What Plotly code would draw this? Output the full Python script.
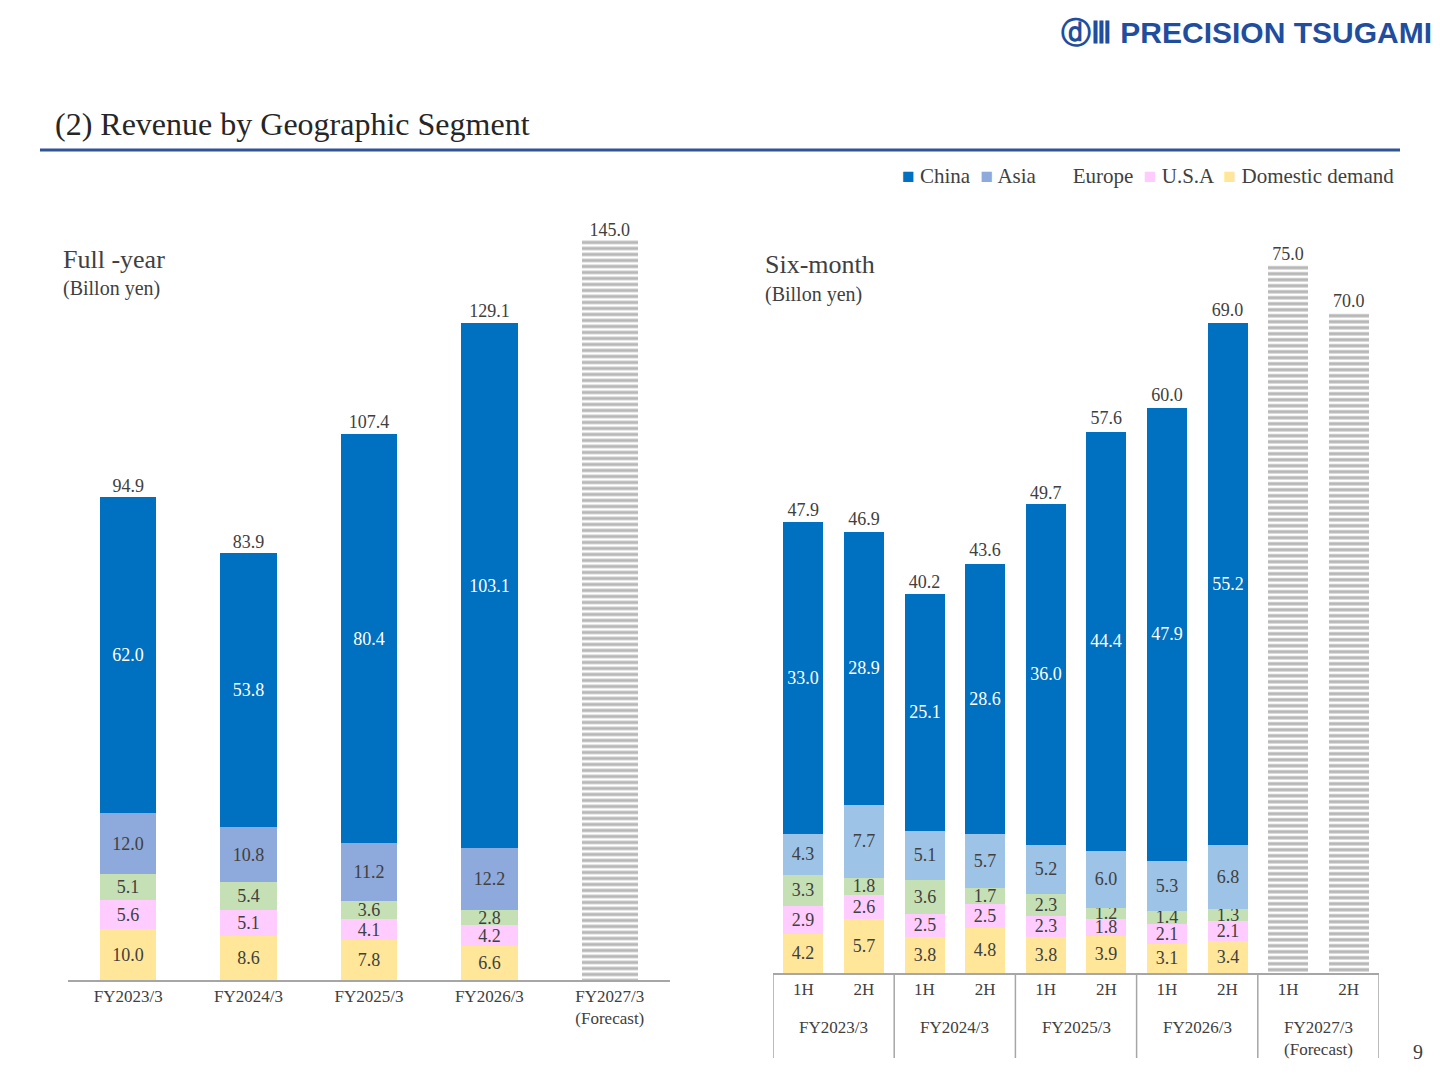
import plotly.graph_objects as go

# ---- data ----
fy_cats = ["FY2023/3", "FY2024/3", "FY2025/3", "FY2026/3", "FY2027/3<br>(Forecast)"]
fy_domestic = [10.0, 8.6, 7.8, 6.6]
fy_usa = [5.6, 5.1, 4.1, 4.2]
fy_europe = [5.1, 5.4, 3.6, 2.8]
fy_asia = [12.0, 10.8, 11.2, 12.2]
fy_china = [62.0, 53.8, 80.4, 103.1]
fy_totals = [94.9, 83.9, 107.4, 129.1, 145.0]
fy_forecast = [None, None, None, None, 145.0]

h_ticks = ["1H", "2H"] * 5
h_years = ["FY2023/3", "FY2024/3", "FY2025/3", "FY2026/3", "FY2027/3<br>(Forecast)"]
h_domestic = [4.2, 5.7, 3.8, 4.8, 3.8, 3.9, 3.1, 3.4]
h_usa = [2.9, 2.6, 2.5, 2.5, 2.3, 1.8, 2.1, 2.1]
h_europe = [3.3, 1.8, 3.6, 1.7, 2.3, 1.2, 1.4, 1.3]
h_asia = [4.3, 7.7, 5.1, 5.7, 5.2, 6.0, 5.3, 6.8]
h_china = [33.0, 28.9, 25.1, 28.6, 36.0, 44.4, 47.9, 55.2]
h_totals = [47.9, 46.9, 40.2, 43.6, 49.7, 57.6, 60.0, 69.0, 75.0, 70.0]
h_forecast = [None] * 8 + [75.0, 70.0]

FONT = "Liberation Serif"
TXT = "#404040"
C_CHINA = "#0070C0"
C_ASIA_L = "#8EA9DB"
C_ASIA_R = "#9DC3E6"
C_EU = "#C5E0B4"
C_US = "#FFCCFF"
C_DOM = "#FFE699"

W, H = 1440, 1080
OFF = 8  # page body margin
def py(p):
    return 1 - (p - OFF) / H
def px(p):
    return (p - OFF) / W

fig = go.Figure()

def seg(x, vals, color, xa, ya, width, tcolor):
    fig.add_trace(go.Bar(
        x=x[:len(vals)], y=vals, marker=dict(color=color, line=dict(width=0)),
        width=width, text=[f"{v:.1f}" for v in vals], textposition="inside",
        insidetextanchor="middle", textangle=0,
        textfont=dict(family=FONT, size=18, color=tcolor),
        xaxis=xa, yaxis=ya, showlegend=False, hoverinfo="skip"))

hatch = dict(color="white", line=dict(width=0),
             pattern=dict(shape="-", fgcolor="#6F6F6F", bgcolor="white", size=6, solidity=0.55))

# Left chart
for vals, col, tc in [(fy_domestic, C_DOM, TXT), (fy_usa, C_US, TXT), (fy_europe, C_EU, TXT),
                      (fy_asia, C_ASIA_L, TXT), (fy_china, C_CHINA, "white")]:
    seg(fy_cats, vals, col, "x", "y", 0.47, tc)
fig.add_trace(go.Bar(x=fy_cats, y=fy_forecast, width=0.47, marker=hatch,
    xaxis="x", yaxis="y", showlegend=False, hoverinfo="skip"))
fig.add_trace(go.Scatter(x=fy_cats, y=fy_totals, mode="text", text=[f"{v:.1f}" for v in fy_totals],
    textposition="top center", textfont=dict(family=FONT, size=18, color=TXT),
    cliponaxis=False, xaxis="x", yaxis="y", showlegend=False, hoverinfo="skip"))

# Right chart
hx = list(range(10))
for vals, col, tc in [(h_domestic, C_DOM, TXT), (h_usa, C_US, TXT), (h_europe, C_EU, TXT),
                      (h_asia, C_ASIA_R, TXT), (h_china, C_CHINA, "white")]:
    seg(hx, vals, col, "x2", "y2", 0.66, tc)
fig.add_trace(go.Bar(x=hx, y=h_forecast, width=0.66, marker=hatch,
    xaxis="x2", yaxis="y2", showlegend=False, hoverinfo="skip"))
fig.add_trace(go.Scatter(x=hx, y=h_totals, mode="text", text=[f"{v:.1f}" for v in h_totals],
    textposition="top center", textfont=dict(family=FONT, size=18, color=TXT),
    cliponaxis=False, xaxis="x2", yaxis="y2", showlegend=False, hoverinfo="skip"))

axfont = dict(family=FONT, size=17, color=TXT)
fig.update_layout(
    width=W, height=H, margin=dict(l=0, r=0, t=0, b=0),
    paper_bgcolor="white", plot_bgcolor="white", barmode="stack", bargap=0,
    uniformtext=dict(minsize=18, mode="show"),
    xaxis=dict(domain=[px(68), px(670)], anchor="y", range=[-0.5, 4.5], type="category",
               showline=True, linecolor="#A6A6A6", linewidth=1.5, ticks="", tickfont=axfont,
               showgrid=False),
    yaxis=dict(domain=[py(980), py(980 - 150 * 5.097)], range=[0, 150], visible=False),
    xaxis2=dict(domain=[px(773), px(1379)], anchor="y2", range=[-0.5, 9.5],
                tickvals=hx, ticktext=h_ticks, showline=True, linecolor="#A6A6A6", linewidth=1.5,
                ticks="", tickfont=axfont, showgrid=False, zeroline=False),
    yaxis2=dict(domain=[py(973), py(973 - 80 * 9.453)], range=[0, 80], visible=False),
)

# Group separators on right axis
for b in [-0.5, 1.5, 3.5, 5.5, 7.5, 9.5]:
    fig.add_shape(type="line", xref="x2", yref="paper", x0=b, x1=b, y0=py(973), y1=py(1058),
                  line=dict(color="#A6A6A6", width=1.5))
for i, lab in enumerate(h_years):
    fig.add_annotation(xref="x2", yref="paper", x=2 * i + 0.5, y=py(1016), yanchor="top",
                       text=lab, showarrow=False, font=axfont)

# Titles and decoration
fig.add_annotation(xref="paper", yref="paper", x=px(53), y=py(124), xanchor="left", yanchor="middle",
                   text="(2) Revenue by Geographic Segment", showarrow=False,
                   font=dict(family=FONT, size=32, color="#262626"))
fig.add_shape(type="line", xref="paper", yref="paper", x0=px(40), x1=px(1400), y0=py(150), y1=py(150),
              line=dict(color="#2F5597", width=3))
fig.add_annotation(xref="paper", yref="paper", x=px(1434), y=py(33), xanchor="right", yanchor="middle",
                   text="<b>ⓓⅢ PRECISION TSUGAMI</b>", showarrow=False,
                   font=dict(family="Liberation Sans", size=30, color="#1F4E9E"))
fig.add_annotation(xref="paper", yref="paper", x=px(1418), y=py(1052), xanchor="center", yanchor="middle",
                   text="9", showarrow=False, font=dict(family=FONT, size=20, color=TXT))

legend_txt = (f"<span style='color:{C_CHINA}'>■</span> China  "
              f"<span style='color:{C_ASIA_L}'>■</span> Asia       Europe  "
              f"<span style='color:{C_US}'>■</span> U.S.A  "
              f"<span style='color:{C_DOM}'>■</span> Domestic demand")
fig.add_annotation(xref="paper", yref="paper", x=px(1396), y=py(176), xanchor="right", yanchor="middle",
                   text=legend_txt, showarrow=False, font=dict(family=FONT, size=21, color=TXT))

for x0, y1, y2, t in [(61, 259, 288, "Full -year"), (763, 265, 294, "Six-month")]:
    fig.add_annotation(xref="paper", yref="paper", x=px(x0), y=py(y1), xanchor="left", yanchor="middle",
                       text=t, showarrow=False, font=dict(family=FONT, size=26, color=TXT))
    fig.add_annotation(xref="paper", yref="paper", x=px(x0), y=py(y2), xanchor="left", yanchor="middle",
                       text="(Billon yen)", showarrow=False, font=dict(family=FONT, size=20, color=TXT))

fig.write_html("out.html")
